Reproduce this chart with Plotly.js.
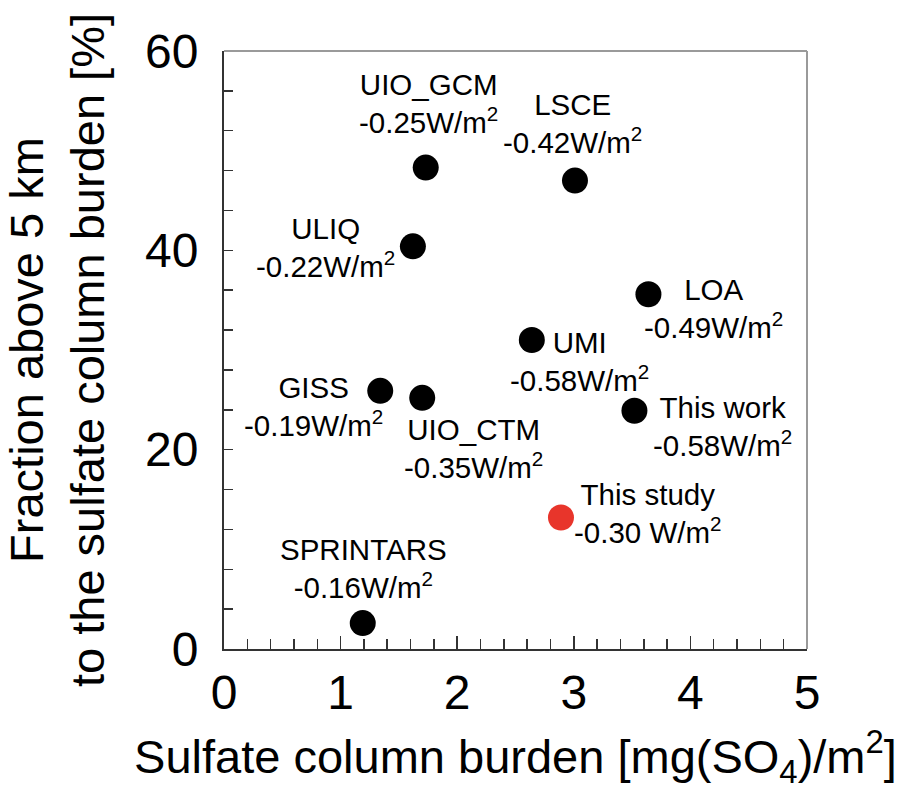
<!DOCTYPE html>
<html>
<head>
<meta charset="utf-8">
<script src="https://cdn.plot.ly/plotly-3.0.1.min.js"></script>
<style>
  html, body { margin: 0; padding: 0; background: #fff; }
  #chart { width: 922px; height: 790px; }
</style>
</head>
<body>
<div id="chart"></div>
<script>
// ---- data ----
const models   = ['UIO_GCM', 'LSCE', 'ULIQ', 'LOA', 'UMI', 'GISS', 'UIO_CTM', 'This work', 'This study', 'SPRINTARS'];
const burden   = [1.73, 3.01, 1.62, 3.64, 2.64, 1.34, 1.70, 3.52, 2.89, 1.19];   // mg(SO4)/m2
const fraction = [48.3, 47.0, 40.4, 35.6, 31.0, 25.9, 25.2, 23.9, 13.2, 2.6];     // %
const forcing  = ['-0.25W/m<sup>2</sup>', '-0.42W/m<sup>2</sup>', '-0.22W/m<sup>2</sup>', '-0.49W/m<sup>2</sup>',
                  '-0.58W/m<sup>2</sup>', '-0.19W/m<sup>2</sup>', '-0.35W/m<sup>2</sup>', '-0.58W/m<sup>2</sup>',
                  '-0.30 W/m<sup>2</sup>', '-0.16W/m<sup>2</sup>'];
const xTickVals = [0, 1, 2, 3, 4, 5];
const yTickVals = [0, 20, 40, 60];

// ---- styling (not data) ----
const pointColors = models.map(m => m === 'This study' ? '#e8352b' : '#000000');
// label offsets in pixels relative to each point (right = +, down = +)
const labelDx = [3, -2, -87, 65, 48, -67, 51, 88, 87, 1];
const labelDy = [-64, -57, 1, 14, 21, 16, 51, 16, -4, -55];

const FONT = 'Liberation Sans, Arial, Helvetica, sans-serif';

const trace = {
  type: 'scatter',
  mode: 'markers',
  x: burden,
  y: fraction,
  text: models,
  marker: { size: 26, color: pointColors, line: { width: 0 } },
  hoverinfo: 'text+x+y',
  showlegend: false
};

const annotations = models.map((m, i) => ({
  x: burden[i], y: fraction[i], xref: 'x', yref: 'y',
  text: m + '<br>' + forcing[i],
  showarrow: false,
  xanchor: 'center', yanchor: 'middle',
  xshift: labelDx[i], yshift: -labelDy[i],
  align: 'center',
  font: { family: FONT, size: 29.5, color: '#000' }
}));

const layout = {
  width: 922, height: 790,
  margin: { l: 224, r: 115, t: 51, b: 141, pad: 0 },
  paper_bgcolor: '#fff', plot_bgcolor: '#fff',
  font: { family: FONT, color: '#000' },
  xaxis: {
    range: [0, 5], tickvals: xTickVals, ticktext: xTickVals.map(String),
    showgrid: false, zeroline: false,
    showline: true, linecolor: '#333', linewidth: 2,
    ticks: 'inside', ticklen: 13, tickwidth: 1.5, tickcolor: '#333',
    minor: { dtick: 0.2, ticks: 'inside', ticklen: 10, tickwidth: 1.5, tickcolor: '#333', showgrid: false },
    tickfont: { family: FONT, size: 48, color: '#000' },
    title: { text: 'Sulfate column burden [mg(SO<sub>4</sub>)/m<sup>2</sup>]', font: { family: FONT, size: 47, color: '#000' }, standoff: 28 },
    fixedrange: true
  },
  yaxis: {
    range: [0, 60], tickvals: yTickVals, ticktext: yTickVals.map(String),
    showgrid: false, zeroline: false,
    showline: true, linecolor: '#333', linewidth: 2,
    ticks: 'inside', ticklen: 9, tickwidth: 1.5, tickcolor: '#333',
    minor: { dtick: 4, ticks: 'inside', ticklen: 9, tickwidth: 1.5, tickcolor: '#333', showgrid: false },
    tickfont: { family: FONT, size: 48, color: '#000' },
    ticklabelstandoff: 14,
    title: { text: 'Fraction above 5 km<br>to the sulfate column burden [%]', font: { family: FONT, size: 47, color: '#000' }, standoff: 26 },
    fixedrange: true
  },
  shapes: [
    { type: 'line', xref: 'paper', yref: 'paper', x0: 0, x1: 1, y0: 1, y1: 1, line: { color: '#9a9a9a', width: 2 } },
    { type: 'line', xref: 'paper', yref: 'paper', x0: 1, x1: 1, y0: 0, y1: 1, line: { color: '#9a9a9a', width: 2 } }
  ],
  annotations: annotations
};

Plotly.newPlot('chart', [trace], layout, { displayModeBar: false, staticPlot: true });
</script>
</body>
</html>
